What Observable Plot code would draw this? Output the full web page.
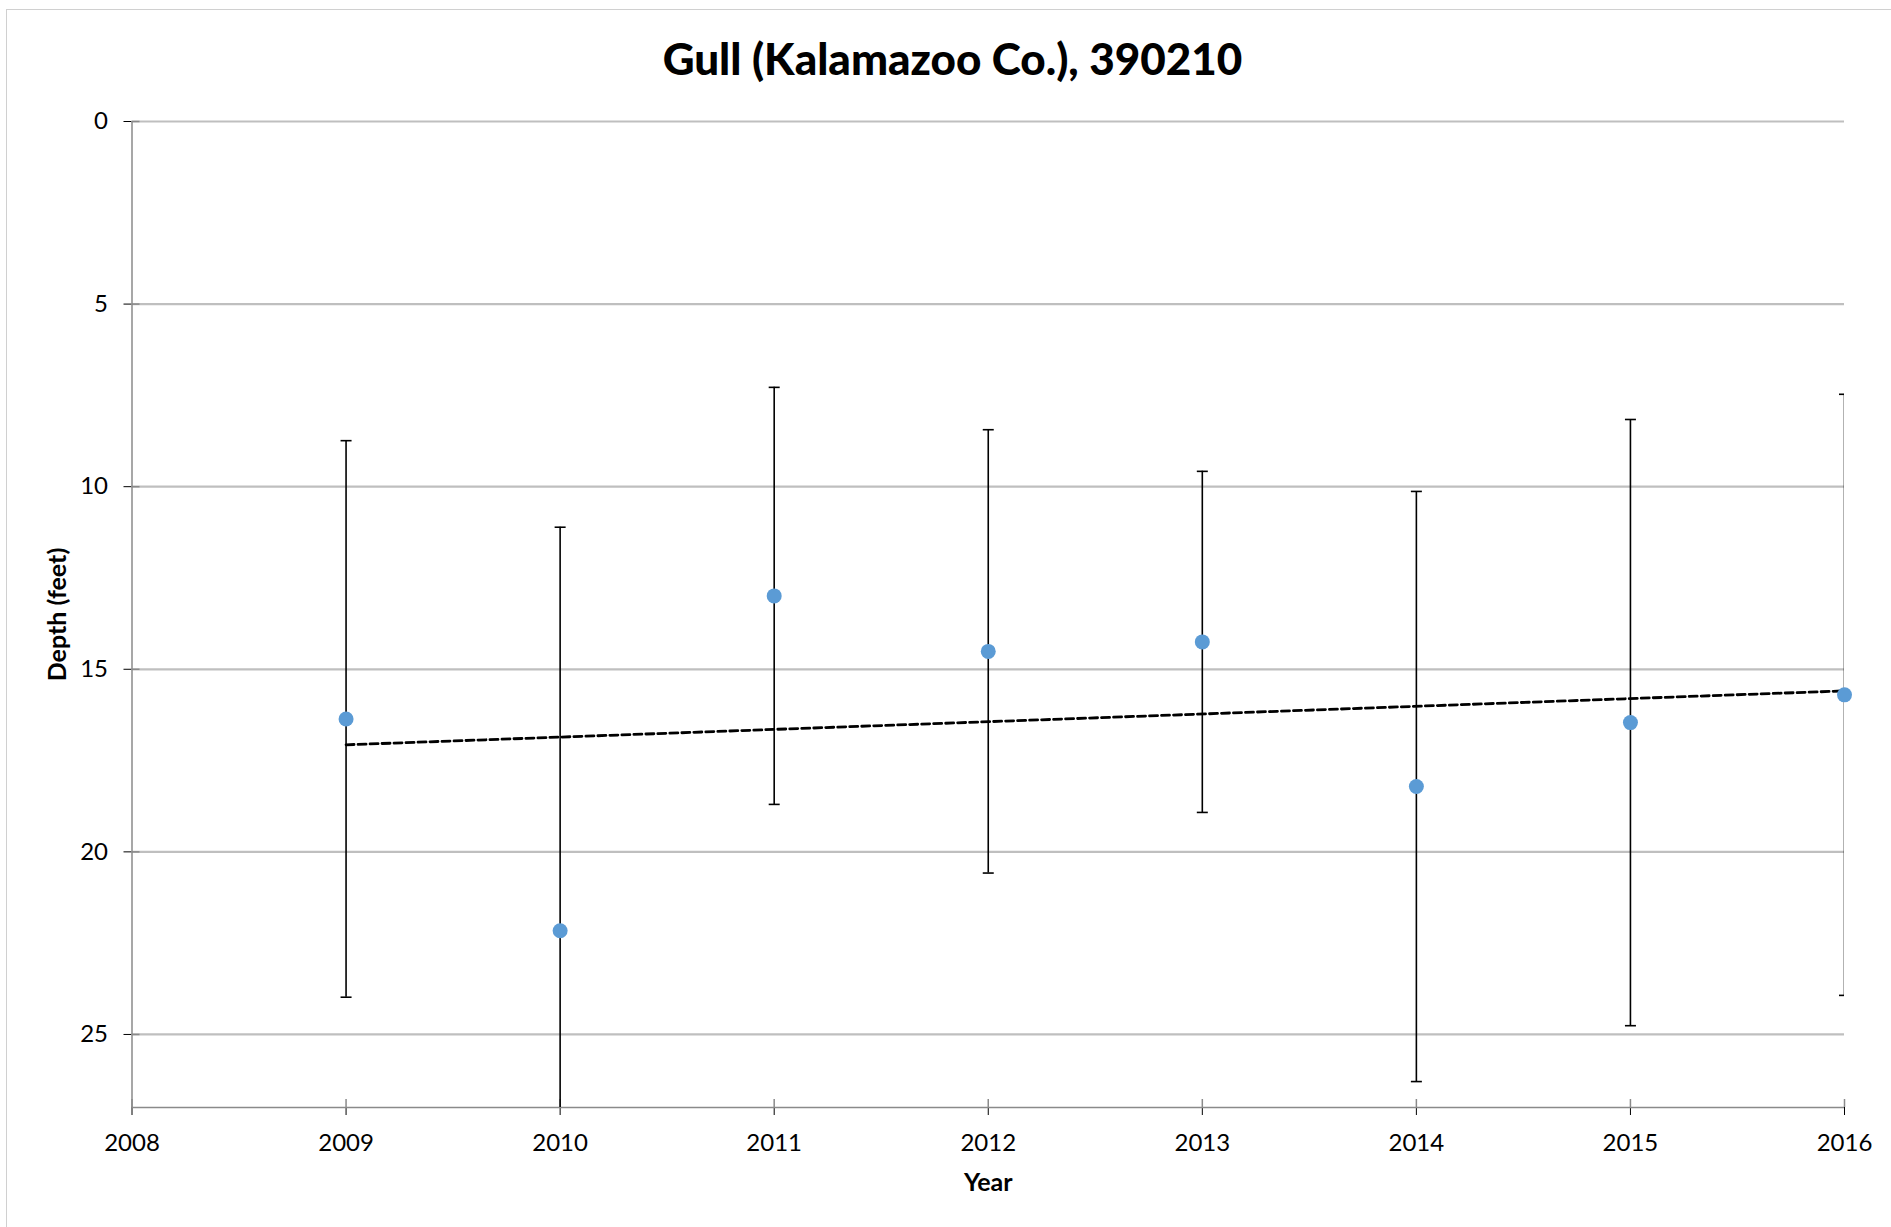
<!DOCTYPE html>
<html>
<head>
<meta charset="utf-8">
<script src="https://cdn.jsdelivr.net/npm/d3@7"></script>
<script src="https://cdn.jsdelivr.net/npm/@observablehq/plot@0.6"></script>
<style>
  html, body { margin: 0; padding: 0; background: #fff; overflow: hidden; }
  #wrap { position: relative; width: 1891px; height: 1227px; }
  #border { position: absolute; left: 6px; top: 9px; width: 1900px; height: 1300px; border: 1px solid #d0d0d0; pointer-events: none; box-sizing: border-box; }
  #title { height: 116px; line-height: 116px; text-align: center; font-family: Lato, "Open Sans", sans-serif; font-weight: 900; font-size: 44px; color: #000; padding-left: 14px; }
  #chart svg { display: block; }
</style>
</head>
<body>
<div id="wrap">
  <div id="border"></div>
  <div id="title">Gull (Kalamazoo Co.), 390210</div>
  <div id="chart"></div>
</div>
<script>
// Data
const years = [2009, 2010, 2011, 2012, 2013, 2014, 2015, 2016];
const depth = [16.36, 22.16, 12.99, 14.51, 14.25, 18.21, 16.46, 15.70];
const errorHalf = [7.62, 11.05, 5.71, 6.07, 4.67, 8.08, 8.30, 8.23];
const xTicks = [2008, 2009, 2010, 2011, 2012, 2013, 2014, 2015, 2016];
const yTicks = [0, 5, 10, 15, 20, 25];
const xDomain = [2008, 2016];
const yDomain = [0, 27];

const data = years.map((yr, i) => ({
  year: yr,
  depth: depth[i],
  lo: depth[i] - errorHalf[i],
  hi: depth[i] + errorHalf[i]
}));

const cap = {
  draw(context, size) {
    const w = Math.sqrt(size / Math.PI);
    context.moveTo(-w, 0);
    context.lineTo(w, 0);
  }
};

const W = 1891, H = 1091;
const mTop = 5, mBottom = 100, mLeft = 131.5, mRight = 47;
const plotH = H - mTop - mBottom;
const plotW = W - mLeft - mRight;

const chart = Plot.plot({
  width: W,
  height: H,
  marginTop: mTop,
  marginBottom: mBottom,
  marginLeft: mLeft,
  marginRight: mRight,
  style: { fontFamily: "Lato, 'Open Sans', sans-serif", fontSize: "24px", color: "#000", background: "#fff", overflow: "visible" },
  x: { domain: xDomain, ticks: xTicks, tickFormat: "d", tickSize: 8, tickPadding: 18, label: null },
  y: { domain: yDomain, reverse: true, ticks: yTicks, tickSize: 8, tickPadding: 16, label: null },
  marks: [
    Plot.gridY(yTicks, { stroke: "#bfbfbf", strokeWidth: 2.2, strokeOpacity: 1 }),
    Plot.ruleX([xDomain[0]], { stroke: "#8a8a8a", strokeWidth: 1.5 }),
    Plot.ruleY([yDomain[1]], { stroke: "#8a8a8a", strokeWidth: 1.5 }),
    Plot.ruleX(xTicks, { stroke: "#8a8a8a", strokeWidth: 1.5, insetTop: plotH - 8 }),
    Plot.ruleY(yTicks, { stroke: "#8a8a8a", strokeWidth: 1.5, insetRight: plotW - 8 }),
    Plot.ruleX(data, { x: "year", y1: "lo", y2: "hi", stroke: "#000", strokeWidth: 1.6, clip: true }),
    Plot.dot(data, { x: "year", y: "lo", symbol: cap, r: 5.5, stroke: "#000", strokeWidth: 1.6, fill: "none", clip: true }),
    Plot.dot(data, { x: "year", y: "hi", symbol: cap, r: 5.5, stroke: "#000", strokeWidth: 1.6, fill: "none", clip: true }),
    Plot.linearRegressionY(data, { x: "year", y: "depth", ci: 0, stroke: "#000", strokeWidth: 2.8, strokeDasharray: "8,4" }),
    Plot.dot(data, { x: "year", y: "depth", r: 7.5, fill: "#5B9BD5", stroke: "none" }),
    Plot.text(["Year"], { frameAnchor: "bottom", dy: 83, fontWeight: "bold", fontSize: 25, fill: "#000" }),
    Plot.text(["Depth (feet)"], { frameAnchor: "left", textAnchor: "middle", dx: -74.5, rotate: -90, fontWeight: "bold", fontSize: 25, fill: "#000" })
  ]
});

document.getElementById("chart").appendChild(chart);
</script>
</body>
</html>
